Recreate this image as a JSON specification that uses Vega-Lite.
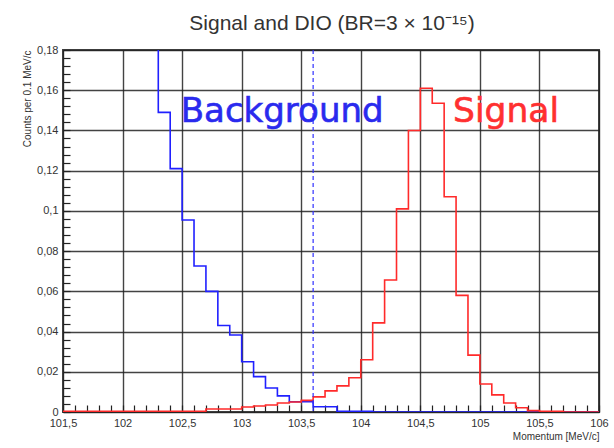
{
  "$schema": "https://vega.github.io/schema/vega-lite/v6.json",
  "width": 536,
  "height": 362,
  "autosize": {"type": "none"},
  "padding": {"left": 63, "top": 50, "right": 15, "bottom": 36},
  "background": "white",
  "config": {
    "view": {"stroke": "#444", "strokeWidth": 2},
    "font": "Liberation Sans"
  },
  "title": {
    "text": "Signal and DIO (BR=3 × 10⁻¹⁵)",
    "fontSize": 21,
    "fontWeight": "normal",
    "color": "#333",
    "font": "Liberation Sans",
    "anchor": "middle",
    "offset": 10,
    "dx": 1
  },
  "datasets": {
    "hist": [
      {"series": "Background", "x": 102.2, "y": 0.25},
      {"series": "Background", "x": 102.3, "y": 0.149},
      {"series": "Background", "x": 102.4, "y": 0.121},
      {"series": "Background", "x": 102.5, "y": 0.0955},
      {"series": "Background", "x": 102.6, "y": 0.0726},
      {"series": "Background", "x": 102.7, "y": 0.06},
      {"series": "Background", "x": 102.8, "y": 0.043},
      {"series": "Background", "x": 102.9, "y": 0.0383},
      {"series": "Background", "x": 103.0, "y": 0.025},
      {"series": "Background", "x": 103.1, "y": 0.0176},
      {"series": "Background", "x": 103.2, "y": 0.0119},
      {"series": "Background", "x": 103.3, "y": 0.008},
      {"series": "Background", "x": 103.4, "y": 0.0051},
      {"series": "Background", "x": 103.5, "y": 0.0051},
      {"series": "Background", "x": 103.6, "y": 0.0026},
      {"series": "Background", "x": 103.7, "y": 0.0026},
      {"series": "Background", "x": 103.8, "y": 0.0004},
      {"series": "Background", "x": 103.9, "y": 0.0004},
      {"series": "Background", "x": 104.0, "y": 0.0004},
      {"series": "Background", "x": 104.1, "y": 0},
      {"series": "Background", "x": 106.0, "y": 0},
      {"series": "Signal", "x": 101.5, "y": 0.0004},
      {"series": "Signal", "x": 102.7, "y": 0.0015},
      {"series": "Signal", "x": 102.8, "y": 0.0015},
      {"series": "Signal", "x": 102.9, "y": 0.0015},
      {"series": "Signal", "x": 103.0, "y": 0.0025},
      {"series": "Signal", "x": 103.1, "y": 0.003},
      {"series": "Signal", "x": 103.2, "y": 0.0035},
      {"series": "Signal", "x": 103.3, "y": 0.0045},
      {"series": "Signal", "x": 103.4, "y": 0.005},
      {"series": "Signal", "x": 103.5, "y": 0.0058},
      {"series": "Signal", "x": 103.6, "y": 0.0075},
      {"series": "Signal", "x": 103.7, "y": 0.0105},
      {"series": "Signal", "x": 103.8, "y": 0.013},
      {"series": "Signal", "x": 103.9, "y": 0.017},
      {"series": "Signal", "x": 104.0, "y": 0.026},
      {"series": "Signal", "x": 104.1, "y": 0.0443},
      {"series": "Signal", "x": 104.2, "y": 0.0656},
      {"series": "Signal", "x": 104.3, "y": 0.101},
      {"series": "Signal", "x": 104.4, "y": 0.14},
      {"series": "Signal", "x": 104.5, "y": 0.161},
      {"series": "Signal", "x": 104.6, "y": 0.1535},
      {"series": "Signal", "x": 104.7, "y": 0.107},
      {"series": "Signal", "x": 104.8, "y": 0.058},
      {"series": "Signal", "x": 104.9, "y": 0.0283},
      {"series": "Signal", "x": 105.0, "y": 0.0139},
      {"series": "Signal", "x": 105.1, "y": 0.0085},
      {"series": "Signal", "x": 105.2, "y": 0.0045},
      {"series": "Signal", "x": 105.3, "y": 0.0021},
      {"series": "Signal", "x": 105.4, "y": 0.0007},
      {"series": "Signal", "x": 105.5, "y": 0.0004},
      {"series": "Signal", "x": 105.6, "y": 0.0004},
      {"series": "Signal", "x": 105.7, "y": 0},
      {"series": "Signal", "x": 106.0, "y": 0}
    ],
    "labels": [
      {"label": "Background", "series": "Background"},
      {"label": "Signal", "series": "Signal"}
    ]
  },
  "layer": [
    {
      "data": {"name": "hist"},
      "mark": {"type": "line", "interpolate": "step-after", "strokeWidth": 1.6, "clip": true},
      "encoding": {
        "x": {
          "field": "x", "type": "quantitative",
          "scale": {"domain": [101.5, 106], "nice": false, "zero": false},
          "axis": {
            "values": [101.5, 101.6, 101.7, 101.8, 101.9, 102, 102.1, 102.2, 102.3, 102.4, 102.5, 102.6, 102.7, 102.8, 102.9, 103, 103.1, 103.2, 103.3, 103.4, 103.5, 103.6, 103.7, 103.8, 103.9, 104, 104.1, 104.2, 104.3, 104.4, 104.5, 104.6, 104.7, 104.8, 104.9, 105, 105.1, 105.2, 105.3, 105.4, 105.5, 105.6, 105.7, 105.8, 105.9, 106],
            "tickCount": 200,
            "offset": -7,
            "labelExpr": "abs(datum.value*2 - round(datum.value*2)) < 0.01 ? replace(format(datum.value, '~g'), '.', ',') : ''",
            "grid": true,
            "gridColor": "#222",
            "gridWidth": 1.4,
            "gridOpacity": {"condition": {"test": "abs(datum.value*2 - round(datum.value*2)) < 0.01", "value": 0.85}, "value": 0},
            "ticks": true,
            "tickSize": 7,
            "tickColor": "#222",
            "tickWidth": 1.2,
            "domain": false,
            "labelFontSize": 11,
            "labelColor": "#333",
            "labelPadding": 5,
            "labelFlush": false,
            "labelOverlap": false,
            "title": "Momentum [MeV/c]",
            "titleFontSize": 10,
            "titleFontWeight": "normal",
            "titleColor": "#333",
            "titleAnchor": "end",
            "titleAlign": "right",
            "titleX": 536,
            "titleY": 31,
            "titleBaseline": "middle"
          }
        },
        "y": {
          "field": "y", "type": "quantitative",
          "scale": {"domain": [0, 0.18], "nice": false},
          "axis": {
            "values": [0, 0.004, 0.008, 0.012, 0.016, 0.02, 0.024, 0.028, 0.032, 0.036, 0.04, 0.044, 0.048, 0.052, 0.056, 0.06, 0.064, 0.068, 0.072, 0.076, 0.08, 0.084, 0.088, 0.092, 0.096, 0.1, 0.104, 0.108, 0.112, 0.116, 0.12, 0.124, 0.128, 0.132, 0.136, 0.14, 0.144, 0.148, 0.152, 0.156, 0.16, 0.164, 0.168, 0.172, 0.176, 0.18],
            "tickCount": 200,
            "offset": -7,
            "labelExpr": "abs(datum.value*50 - round(datum.value*50)) < 0.01 ? replace(format(datum.value, '~g'), '.', ',') : ''",
            "grid": true,
            "gridColor": "#222",
            "gridWidth": 1.4,
            "gridOpacity": {"condition": {"test": "abs(datum.value*50 - round(datum.value*50)) < 0.01", "value": 0.85}, "value": 0},
            "ticks": true,
            "tickSize": 7,
            "tickColor": "#222",
            "tickWidth": 1.2,
            "domain": false,
            "labelFontSize": 11,
            "labelColor": "#333",
            "labelPadding": 5,
            "labelFlush": false,
            "labelOverlap": false,
            "title": "Counts per 0.1 MeV/c",
            "titleFontSize": 10,
            "titleFontWeight": "normal",
            "titleColor": "#333",
            "titleAngle": -90,
            "titleAlign": "right",
            "titleBaseline": "middle",
            "titleX": -43,
            "titleY": 0
          }
        },
        "color": {
          "field": "series", "type": "nominal",
          "scale": {"domain": ["Background", "Signal"], "range": ["#2020ff", "#ff2a2a"]},
          "legend": null
        }
      }
    },
    {
      "data": {"values": [{"cut": "cut"}]},
      "mark": {"type": "rule", "color": "#3030ff", "strokeDash": [4, 3], "strokeWidth": 1.2},
      "encoding": {"x": {"datum": 103.6}}
    },
    {
      "data": {"name": "labels"},
      "transform": [{"filter": "datum.series == 'Background'"}],
      "mark": {"type": "text", "font": "DejaVu Sans", "fontSize": 34, "align": "center", "baseline": "alphabetic", "color": "#2a2aee", "stroke": "#2a2aee", "strokeWidth": 0.6},
      "encoding": {
        "x": {"datum": 103.34},
        "y": {"datum": 0.144},
        "text": {"field": "label"}
      }
    },
    {
      "data": {"name": "labels"},
      "transform": [{"filter": "datum.series == 'Signal'"}],
      "mark": {"type": "text", "font": "DejaVu Sans", "fontSize": 34.5, "align": "center", "baseline": "alphabetic", "color": "#ff3030", "stroke": "#ff3030", "strokeWidth": 0.6},
      "encoding": {
        "x": {"datum": 105.22},
        "y": {"datum": 0.144},
        "text": {"field": "label"}
      }
    }
  ]
}
